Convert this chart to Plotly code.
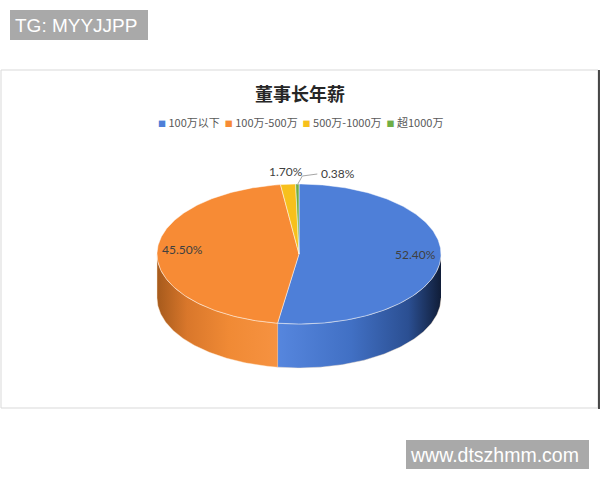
import numpy as np
import plotly.graph_objects as go

# 董事长年薪 distribution
categories = ["100万以下", "100万-500万", "500万-1000万", "超1000万"]
shares = [52.40, 45.50, 1.70, 0.38]
share_labels = ["52.40%", "45.50%", "1.70%", "0.38%"]

top_colors = ["#4e7fd8", "#f78b35", "#f7c01c", "#6fae45"]
wall_scales = [
    [[0, "#5686de"], [0.45, "#4170c4"], [0.8, "#2b4f92"], [1, "#101d38"]],
    [[0, "#a65a1c"], [0.25, "#d9772b"], [0.6, "#f08a35"], [1, "#f69241"]],
    [[0, "#c99a10"], [1, "#e8b418"]],
    [[0, "#4f8a2e"], [1, "#5f9c3a"]],
]

# pie geometry (pixel space)
CX, CY, RX, RY, DEPTH = 299, 254, 142, 70, 44


def ellipse(theta, dy=0.0):
    t = np.radians(theta)
    return CX + RX * np.sin(t), CY - RY * np.cos(t) + dy


edges = np.concatenate([[0], np.cumsum(shares)]) / sum(shares) * 360

fig = go.Figure()

# side walls (front half only)
for i in range(len(shares)):
    lo, hi = max(edges[i], 90), min(edges[i + 1], 270)
    if lo >= hi:
        continue
    th = np.linspace(lo, hi, 120)
    xs, ys = ellipse(th)
    fig.add_trace(go.Scatter(
        x=np.concatenate([xs, xs[::-1]]),
        y=np.concatenate([ys, ys[::-1] + DEPTH]),
        fill="toself", mode="lines",
        line=dict(color="rgba(255,235,210,0.55)", width=0.8),
        fillgradient=dict(type="horizontal", colorscale=wall_scales[i]),
        hoverinfo="skip", showlegend=False,
    ))

# top faces
for i in range(len(shares)):
    th = np.linspace(edges[i], edges[i + 1], 200)
    xs, ys = ellipse(th)
    fig.add_trace(go.Scatter(
        x=np.concatenate([[CX], xs, [CX]]),
        y=np.concatenate([[CY], ys, [CY]]),
        fill="toself", mode="lines",
        fillcolor=top_colors[i],
        line=dict(color="rgba(255,255,255,0.6)", width=0.8),
        name=categories[i], text=share_labels[i], hoverinfo="name+text",
        showlegend=False,
    ))

# data labels
mid = (edges[:-1] + edges[1:]) / 2
lab_font = dict(family="Lato, Liberation Sans", size=12, color="#404040")
for i in range(2):
    lx, ly = ellipse(mid[i])
    lx = CX + (lx - CX) * 0.82
    ly = CY + (ly - CY) * 0.82
    fig.add_annotation(x=lx, y=ly - 4, text=share_labels[i], showarrow=False,
                       font=lab_font)

yx, yy = ellipse(mid[2])
fig.add_annotation(x=yx - 2, y=yy - 13, text=share_labels[2], showarrow=False,
                   font=lab_font)
gx, gy = ellipse(mid[3])
fig.add_shape(type="path",
              path=f"M {gx} {gy + 1} L {gx + 5} {gy - 8} L {gx + 20} {gy - 10}",
              line=dict(color="#a6a6a6", width=1))
fig.add_annotation(x=gx + 22, y=gy - 11, text=share_labels[3], showarrow=False,
                   xanchor="left", font=lab_font)

# title and legend
fig.add_annotation(x=300, y=93, text="<b>董事长年薪</b>", showarrow=False,
                   font=dict(family="Noto Sans CJK SC", size=18, color="#262626"))
legend_text = "&nbsp;&nbsp;".join(
    f"<span style='color:{c};font-size:8px'>■</span> {n}"
    for c, n in zip(top_colors, categories)
)
fig.add_annotation(x=300, y=122, text=legend_text, showarrow=False,
                   font=dict(family="Noto Sans CJK SC", size=11, color="#595959"))

# chart frame
fig.add_shape(type="rect", x0=1, x1=598, y0=70, y1=408,
              line=dict(color="#d9d9d9", width=1), layer="below")
fig.add_shape(type="line", x0=599, x1=599, y0=70, y1=409,
              line=dict(color="#111111", width=1.5))

# watermarks
fig.add_shape(type="rect", x0=10, x1=148, y0=10, y1=40,
              fillcolor="#a9a9a9", line=dict(width=0))
fig.add_annotation(x=13, y=25, text="TG: MYYJJPP", showarrow=False, xanchor="left",
                   font=dict(family="Liberation Sans", size=19, color="white"))
fig.add_shape(type="rect", x0=406, x1=589, y0=440, y1=469,
              fillcolor="#a9a9a9", line=dict(width=0))
fig.add_annotation(x=494, y=455, text="www.dtszhmm.com", showarrow=False,
                   font=dict(family="Liberation Sans", size=19.5, color="white"))

fig.update_xaxes(range=[0, 600], visible=False, fixedrange=True)
fig.update_yaxes(range=[480, 0], visible=False, fixedrange=True)
fig.update_layout(
    width=600, height=480,
    margin=dict(l=0, r=0, t=0, b=0),
    paper_bgcolor="white", plot_bgcolor="white",
)

fig.write_html("out.html", config={"displayModeBar": False},
               post_script="document.body.style.margin='0';")
